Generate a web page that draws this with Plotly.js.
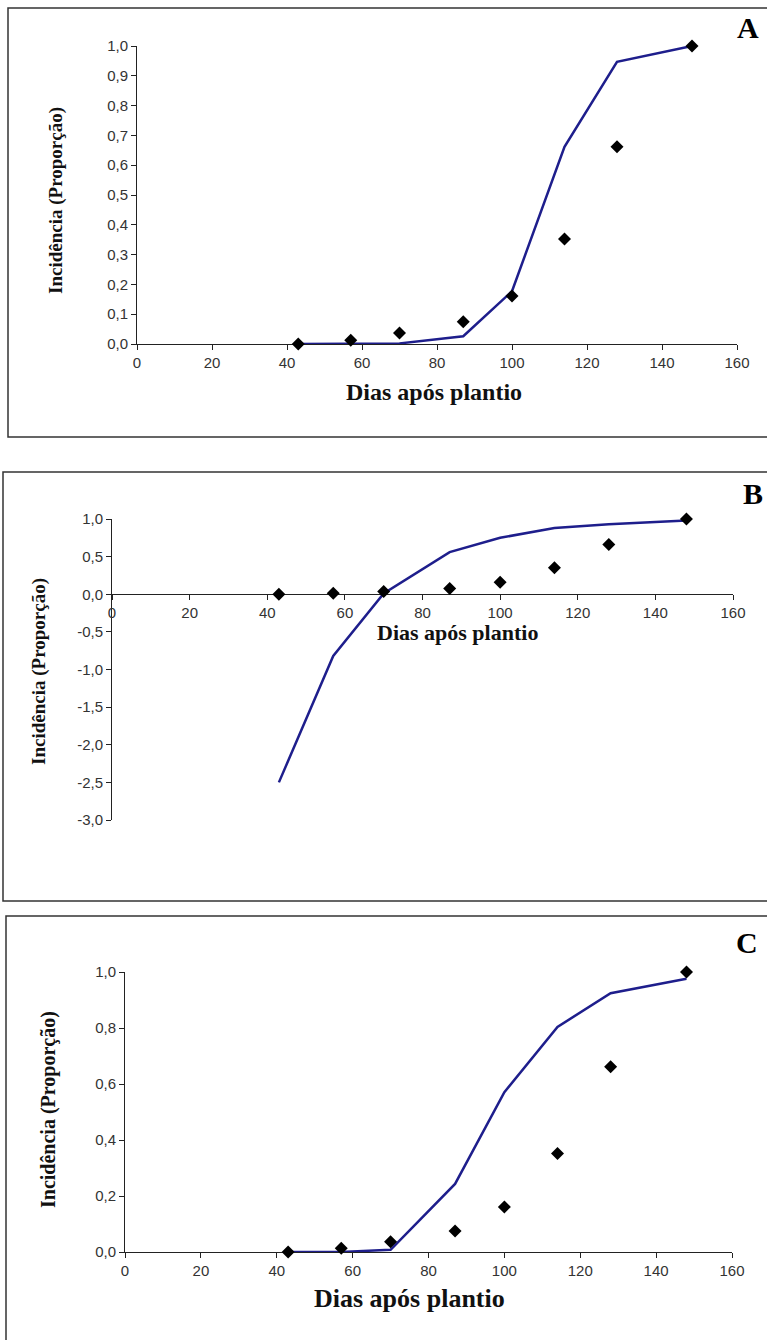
<!DOCTYPE html>
<html>
<head>
<meta charset="utf-8">
<script src="https://cdn.plot.ly/plotly-3.0.1.min.js"></script>
<style>html,body{margin:0;padding:0;background:#fff;}#chart{width:767px;height:1340px;}</style>
</head>
<body>
<div id="chart"></div>
<script>
// ---- data ----
var days = [43, 57, 70, 87, 100, 114, 128, 148];
var observed = [0, 0.013, 0.037, 0.075, 0.161, 0.352, 0.662, 1.0];
var modelA = [0, 0, 0.002, 0.026, 0.177, 0.662, 0.947, 1.0];
var modelB = [-2.5, -0.82, 0.01, 0.56, 0.75, 0.88, 0.93, 0.98];
var modelC = [0, 0, 0.008, 0.243, 0.571, 0.804, 0.924, 0.976];
var xTickVals = [0, 20, 40, 60, 80, 100, 120, 140, 160];
var yTickValsB = [-3, -2.5, -2, -1.5, -1, -0.5, 0, 0.5, 1];
var yTickTextB = ['-3,0', '-2,5', '-2,0', '-1,5', '-1,0', '-0,5', '0,0', '0,5', '1,0'];
var xTitle = 'Dias após plantio';
var yTitle = 'Incidência (Proporção)';
var panelLetters = ['A', 'B', 'C'];

// ---- layout helpers ----
var W = 767, H = 1340;
function px(x) { return x / W; }
function py(y) { return 1 - y / H; }

var lineColor = '#1e1e8c';
var tickFont = {family: 'Liberation Sans, Arial, sans-serif', size: 15, color: '#333'};
var serifBold = 'Liberation Serif, Times New Roman, serif';

function modelTrace(y, xa, ya) {
  return {x: days, y: y, xaxis: xa, yaxis: ya, type: 'scatter', mode: 'lines',
    line: {color: lineColor, width: 2.5}, cliponaxis: false, hoverinfo: 'skip'};
}
function obsTrace(xa, ya) {
  return {x: days, y: observed, xaxis: xa, yaxis: ya, type: 'scatter', mode: 'markers',
    marker: {symbol: 'diamond', size: 10, color: '#000'}, cliponaxis: false, hoverinfo: 'skip'};
}

var data = [
  modelTrace(modelA, 'x', 'y'), obsTrace('x', 'y'),
  modelTrace(modelB, 'x2', 'y2'), obsTrace('x2', 'y2'),
  modelTrace(modelC, 'x3', 'y3'), obsTrace('x3', 'y3')
];

function xAxis(domain, extra) {
  var a = {domain: domain, range: [0, 160], tickmode: 'array', tickvals: xTickVals,
    showline: true, linecolor: '#222', linewidth: 1, ticks: 'outside', ticklen: 5,
    tickcolor: '#222', showgrid: false, zeroline: false, tickfont: tickFont, fixedrange: true,
    layer: 'below traces'};
  for (var k in extra) a[k] = extra[k];
  return a;
}
function yAxis(domain, extra) {
  var a = {domain: domain, showline: true, linecolor: '#222', linewidth: 1, ticks: 'outside',
    ticklen: 5, tickcolor: '#222', showgrid: false, zeroline: false, tickfont: tickFont,
    fixedrange: true, layer: 'below traces'};
  for (var k in extra) a[k] = extra[k];
  return a;
}

var yDomB = [py(820), py(519)];
var zeroPosB = yDomB[0] + (0 - (-3)) / 4 * (yDomB[1] - yDomB[0]);

var layout = {
  width: W, height: H,
  margin: {l: 0, r: 0, t: 0, b: 0},
  paper_bgcolor: '#fff', plot_bgcolor: 'rgba(0,0,0,0)',
  showlegend: false,
  separators: ',.',
  xaxis: xAxis([px(137), px(737)], {anchor: 'y'}),
  yaxis: yAxis([py(344), py(46)], {anchor: 'x', range: [0, 1], dtick: 0.1, tick0: 0, tickformat: '.1f'}),
  xaxis2: xAxis([px(112), px(733)], {anchor: 'free', position: zeroPosB}),
  yaxis2: yAxis(yDomB, {anchor: 'x2', range: [-3, 1], tickmode: 'array', tickvals: yTickValsB, ticktext: yTickTextB}),
  xaxis3: xAxis([px(125), px(732)], {anchor: 'y3'}),
  yaxis3: yAxis([py(1252), py(972)], {anchor: 'x3', range: [0, 1], dtick: 0.2, tick0: 0, tickformat: '.1f'}),
  shapes: [
    {type: 'rect', xref: 'paper', yref: 'paper', x0: px(8), x1: px(775), y0: py(437), y1: py(8),
      line: {color: '#333', width: 1.5}, fillcolor: 'rgba(0,0,0,0)', layer: 'below'},
    {type: 'rect', xref: 'paper', yref: 'paper', x0: px(3), x1: px(775), y0: py(901), y1: py(472),
      line: {color: '#333', width: 1.5}, fillcolor: 'rgba(0,0,0,0)', layer: 'below'},
    {type: 'rect', xref: 'paper', yref: 'paper', x0: px(6), x1: px(775), y0: py(1350), y1: py(916),
      line: {color: '#333', width: 1.5}, fillcolor: 'rgba(0,0,0,0)', layer: 'below'}
  ],
  annotations: [
    {text: xTitle, xref: 'paper', yref: 'paper', x: px(434), y: py(392), showarrow: false,
      xanchor: 'center', yanchor: 'middle', font: {family: serifBold, size: 24, color: '#111', weight: 'bold'}},
    {text: yTitle, xref: 'paper', yref: 'paper', x: px(56), y: py(200), showarrow: false, textangle: -90,
      xanchor: 'center', yanchor: 'middle', font: {family: serifBold, size: 19, color: '#111', weight: 'bold'}},
    {text: panelLetters[0], xref: 'paper', yref: 'paper', x: px(748), y: py(28), showarrow: false,
      xanchor: 'center', yanchor: 'middle', font: {family: serifBold, size: 30, color: '#000', weight: 'bold'}},

    {text: xTitle, xref: 'paper', yref: 'paper', x: px(457), y: py(632), showarrow: false,
      xanchor: 'center', yanchor: 'middle', font: {family: serifBold, size: 22, color: '#111', weight: 'bold'}},
    {text: yTitle, xref: 'paper', yref: 'paper', x: px(39), y: py(672), showarrow: false, textangle: -90,
      xanchor: 'center', yanchor: 'middle', font: {family: serifBold, size: 19, color: '#111', weight: 'bold'}},
    {text: panelLetters[1], xref: 'paper', yref: 'paper', x: px(753), y: py(494), showarrow: false,
      xanchor: 'center', yanchor: 'middle', font: {family: serifBold, size: 30, color: '#000', weight: 'bold'}},

    {text: xTitle, xref: 'paper', yref: 'paper', x: px(410), y: py(1298), showarrow: false,
      xanchor: 'center', yanchor: 'middle', font: {family: serifBold, size: 26, color: '#111', weight: 'bold'}},
    {text: yTitle, xref: 'paper', yref: 'paper', x: px(48), y: py(1110), showarrow: false, textangle: -90,
      xanchor: 'center', yanchor: 'middle', font: {family: serifBold, size: 20, color: '#111', weight: 'bold'}},
    {text: panelLetters[2], xref: 'paper', yref: 'paper', x: px(747), y: py(942), showarrow: false,
      xanchor: 'center', yanchor: 'middle', font: {family: serifBold, size: 30, color: '#000', weight: 'bold'}}
  ]
};

Plotly.newPlot('chart', data, layout, {staticPlot: true, displayModeBar: false});
</script>
</body>
</html>
